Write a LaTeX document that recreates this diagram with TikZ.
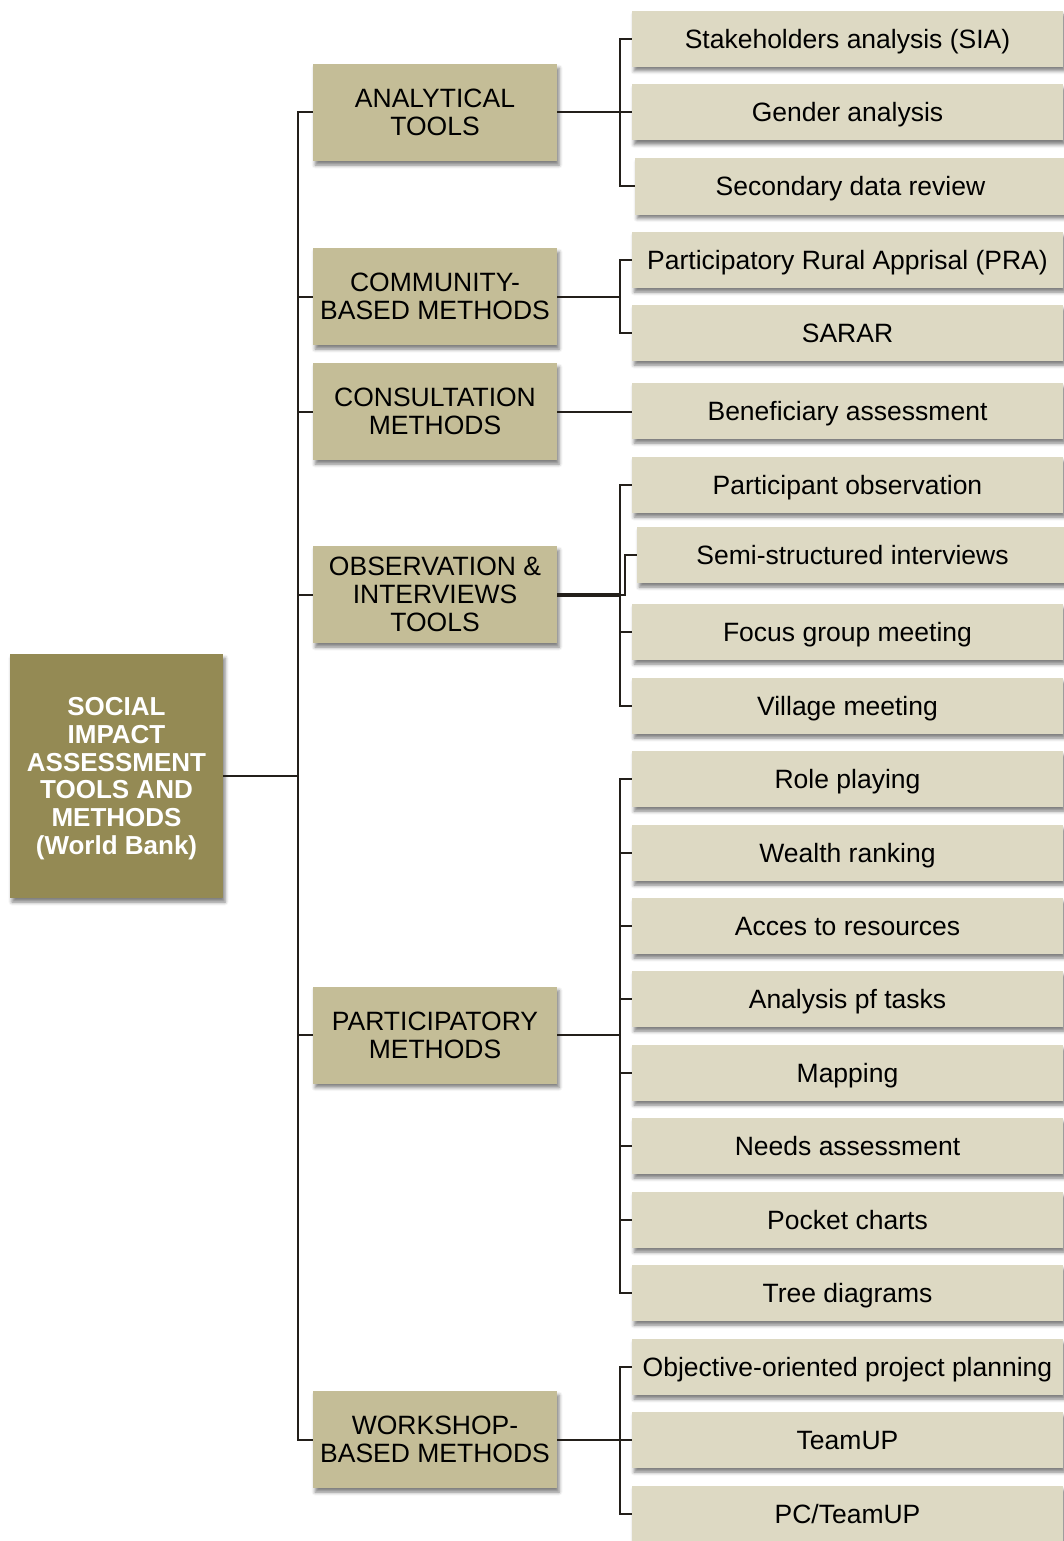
\documentclass[tikz,border=0pt]{standalone}
\usepackage{fontspec}
\setmainfont{Liberation Sans}
\usetikzlibrary{shadows.blur}
\definecolor{rootc}{HTML}{948A54}
\definecolor{midc}{HTML}{C4BD97}
\definecolor{leafc}{HTML}{DDD9C3}
\definecolor{linec}{HTML}{231F1A}
\begin{document}
\begin{tikzpicture}[x=1pt,y=-1pt,
  boxshadow/.style={blur shadow={shadow xshift=2pt,shadow yshift=-4pt,shadow blur radius=3.5pt,shadow opacity=50}},
  rootbox/.style={fill=rootc,text=white,boxshadow,inner sep=0pt,align=center,
    minimum width=213pt,minimum height=244pt,text depth=0pt,
    font=\fontsize{26}{27.8}\selectfont\bfseries},
  midbox/.style={fill=midc,text=black,boxshadow,inner sep=0pt,align=center,
    minimum width=244pt,minimum height=97pt,
    font=\fontsize{26.5}{28}\selectfont},
  leafbox/.style={fill=leafc,text=black,boxshadow,inner sep=0pt,align=center,
    minimum width=431pt,minimum height=56pt,text height=19pt,text depth=0pt,
    font=\fontsize{26.5}{28}\selectfont},
  link/.style={draw=linec,line width=2pt},
  thicklink/.style={draw=linec,line width=4pt}]
\useasboundingbox (0,0) rectangle (1064,1541);

% buses
\coordinate (trunk) at (298,0);
\coordinate (bus) at (620,0);
\coordinate (jog) at (625,0);

% root
\node[rootbox] (root) at (116.5,776) {SOCIAL\\IMPACT\\ASSESSMENT\\TOOLS AND\\METHODS\\(World Bank)};

% categories
\node[midbox] (m1) at (435,112.5) {ANALYTICAL\\TOOLS};
\node[midbox] (m2) at (435,296.5) {COMMUNITY-\\BASED METHODS};
\node[midbox] (m3) at (435,411.5) {CONSULTATION\\METHODS};
\node[midbox] (m4) at (435,594.5) {OBSERVATION \&\\INTERVIEWS\\TOOLS};
\node[midbox] (m5) at (435,1035) {PARTICIPATORY\\METHODS};
\node[midbox] (m6) at (435,1439.5) {WORKSHOP-\\BASED METHODS};

% tools and methods
\node[leafbox] (l1)  at (847.5,39)   {Stakeholders analysis (SIA)};
\node[leafbox] (l2)  at (847.5,112.5){Gender analysis};
\node[leafbox] (l3)  at (850.5,186.5){Secondary data review};
\node[leafbox] (l4)  at (847.5,260)  {Participatory Rural Apprisal (PRA)};
\node[leafbox] (l5)  at (847.5,333)  {SARAR};
\node[leafbox] (l6)  at (847.5,411)  {Beneficiary assessment};
\node[leafbox] (l7)  at (847.5,485)  {Participant observation};
\node[leafbox] (l8)  at (852.5,555)  {Semi-structured interviews};
\node[leafbox] (l9)  at (847.5,632)  {Focus group meeting};
\node[leafbox] (l10) at (847.5,706)  {Village meeting};
\node[leafbox] (l11) at (847.5,779)  {Role playing};
\node[leafbox] (l12) at (847.5,853)  {Wealth ranking};
\node[leafbox] (l13) at (847.5,926)  {Acces to resources};
\node[leafbox] (l14) at (847.5,999)  {Analysis pf tasks};
\node[leafbox] (l15) at (847.5,1073) {Mapping};
\node[leafbox] (l16) at (847.5,1146) {Needs assessment};
\node[leafbox] (l17) at (847.5,1220) {Pocket charts};
\node[leafbox] (l18) at (847.5,1293) {Tree diagrams};
\node[leafbox] (l19) at (847.5,1367) {Objective-oriented project planning};
\node[leafbox] (l20) at (847.5,1440) {TeamUP};
\node[leafbox] (l21) at (847.5,1514) {PC/TeamUP};

% root to categories
\foreach \m in {m1,m2,m3,m4,m5,m6}
  \draw[link] (root.east) -- (root.east -| trunk) |- (\m.west);

% categories to tools
\foreach \l in {l1,l2,l3}
  \draw[link] (m1.east) -- (m1.east -| bus) |- (\l.west);
\foreach \l in {l4,l5}
  \draw[link] (m2.east) -- (m2.east -| bus) |- (\l.west);
\draw[link] (m3.east) -- (l6.west |- m3.east);
\foreach \l in {l7,l9,l10}
  \draw[link] (m4.east -| bus) |- (\l.west);
\draw[link] (m4.east -| bus) -- (m4.east -| jog) |- (l8.west);
\draw[thicklink] (m4.east) -- (m4.east -| bus);
\foreach \l in {l11,l12,l13,l14,l15,l16,l17,l18}
  \draw[link] (m5.east) -- (m5.east -| bus) |- (\l.west);
\foreach \l in {l19,l20,l21}
  \draw[link] (m6.east) -- (m6.east -| bus) |- (\l.west);
\end{tikzpicture}
\end{document}
